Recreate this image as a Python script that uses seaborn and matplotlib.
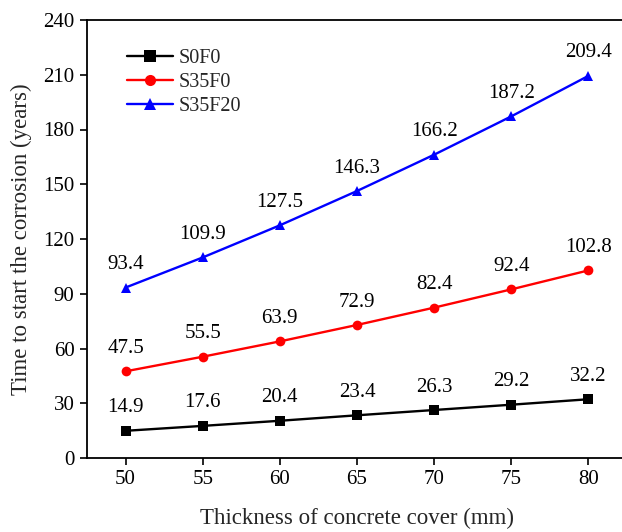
import matplotlib
matplotlib.use("Agg")
import matplotlib.pyplot as plt
import seaborn as sns
import pandas as pd

cover = [50, 55, 60, 65, 70, 75, 80]
s0f0 = [14.9, 17.6, 20.4, 23.4, 26.3, 29.2, 32.2]
s35f0 = [47.5, 55.5, 63.9, 72.9, 82.4, 92.4, 102.8]
s35f20 = [93.4, 109.9, 127.5, 146.3, 166.2, 187.2, 209.4]
series_names = ["S0F0", "S35F0", "S35F20"]
y_ticks = [0, 30, 60, 90, 120, 150, 180, 210, 240]
x_ticks = [50, 55, 60, 65, 70, 75, 80]

sns.set_theme(style="ticks")
plt.rcParams["font.family"] = ["Liberation Serif", "DejaVu Serif"]

rows = []
for name, vals in zip(series_names, [s0f0, s35f0, s35f20]):
    for x, y in zip(cover, vals):
        rows.append({"cover": x, "time": y, "series": name})
df = pd.DataFrame(rows)

palette = {"S0F0": "black", "S35F0": "red", "S35F20": "blue"}
markers = {"S0F0": "s", "S35F0": "o", "S35F20": "^"}

fig = plt.figure(figsize=(6.22, 5.32), dpi=100)
ax = fig.add_axes([87 / 622, 1 - 458 / 532, 540 / 622, 438 / 532])

sns.lineplot(data=df, x="cover", y="time", hue="series", style="series",
             palette=palette, markers=markers, dashes=False, ax=ax,
             linewidth=1.7, markersize=7, markeredgewidth=0)

for vals in [s0f0, s35f0, s35f20]:
    for x, y in zip(cover, vals):
        ax.annotate(f"{y:.1f}", (x, y), xytext=(0, 16.5), textcoords="offset points",
                    ha="center", va="center", fontsize=15, color="black")

ax.set_xlim(47.5, 82.5)
ax.set_ylim(0, 240)
ax.set_xticks(x_ticks)
ax.set_yticks(y_ticks)
ax.tick_params(axis="both", direction="out", length=5, width=1.2, labelsize=15,
               colors="black", top=False, right=False, pad=4)
for sp in ax.spines.values():
    sp.set_linewidth(1.3)
    sp.set_color("black")
    sp.set_visible(True)

ax.set_xlabel("Thickness of concrete cover (mm)", fontsize=16.5, labelpad=13)
ax.set_ylabel("Time to start the corrosion (years)", fontsize=16.5, labelpad=8)

leg = ax.legend(loc="upper left", bbox_to_anchor=(0.04, 0.975), frameon=False,
                fontsize=14.5, handlelength=2.3, handletextpad=0.3, labelspacing=0.25,
                title=None)
for h in leg.legend_handles:
    h.set_markersize(8)
    h.set_linewidth(1.7)

fig.savefig("out.png", dpi=100)
